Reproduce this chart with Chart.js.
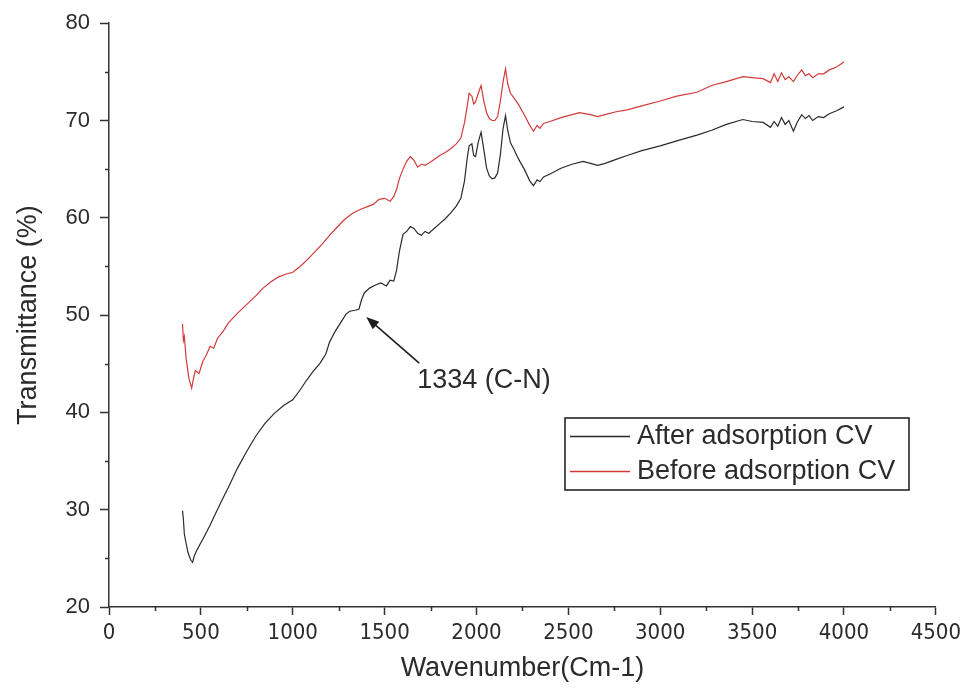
<!DOCTYPE html>
<html>
<head>
<meta charset="utf-8">
<script src="https://cdn.jsdelivr.net/npm/chart.js@4/dist/chart.umd.min.js"></script>
<style>
  html, body { margin: 0; padding: 0; background: #ffffff; }
  #wrap { width: 966px; height: 691px; }
</style>
</head>
<body>
<div id="wrap"><canvas id="c" width="966" height="691"></canvas></div>
<script>
// ---------- DATA ----------
const seriesNames = ['After adsorption CV', 'Before adsorption CV'];

const afterWavenumber = [400,405,410,420,430,445,455,465,480,500,520,550,580,610,650,700,750,800,850,900,950,1000,1040,1075,1110,1150,1180,1200,1230,1260,1290,1310,1340,1360,1375,1390,1420,1450,1480,1510,1530,1550,1565,1580,1600,1620,1640,1660,1680,1700,1720,1740,1770,1800,1830,1860,1890,1915,1935,1950,1960,1975,1985,1995,2010,2025,2040,2055,2070,2085,2100,2115,2130,2145,2158,2170,2185,2205,2230,2260,2290,2310,2330,2345,2365,2400,2460,2520,2580,2620,2660,2700,2760,2820,2900,3000,3090,3200,3280,3360,3450,3500,3560,3600,3620,3640,3660,3680,3700,3725,3745,3770,3790,3810,3830,3860,3890,3920,3960,4000];
const afterT = [29.9,29.0,27.5,26.5,25.6,24.8,24.6,25.3,25.9,26.6,27.3,28.4,29.6,30.8,32.3,34.3,36.0,37.6,38.9,39.9,40.7,41.3,42.3,43.3,44.2,45.1,46.0,47.2,48.3,49.2,50.1,50.4,50.5,50.6,51.6,52.3,52.8,53.1,53.3,53.0,53.6,53.5,54.6,56.5,58.3,58.6,59.1,58.9,58.4,58.2,58.6,58.4,58.9,59.4,59.9,60.5,61.2,62.0,63.8,66.2,67.4,67.6,66.4,66.3,67.8,68.8,67.0,65.1,64.3,64.0,64.1,64.6,66.5,69.2,70.5,69.0,67.7,67.0,66.0,65.0,63.8,63.3,63.9,63.7,64.2,64.5,65.1,65.5,65.8,65.6,65.4,65.6,66.0,66.4,66.9,67.4,67.9,68.5,69.0,69.6,70.1,69.9,69.8,69.3,69.9,69.4,70.3,69.6,70.0,68.9,69.8,70.6,70.2,70.5,70.0,70.4,70.3,70.7,71.0,71.4];

const beforeWavenumber = [400,405,410,420,435,450,460,470,490,510,530,550,570,590,620,650,700,750,800,840,880,920,960,1000,1040,1080,1120,1160,1200,1240,1280,1320,1360,1400,1440,1470,1500,1530,1550,1565,1580,1600,1620,1640,1660,1680,1700,1720,1740,1770,1800,1830,1860,1890,1915,1935,1950,1960,1975,1985,1995,2010,2025,2040,2055,2070,2085,2100,2115,2130,2145,2158,2170,2185,2205,2230,2260,2290,2310,2330,2345,2365,2400,2460,2520,2560,2620,2660,2700,2760,2820,2900,3000,3090,3200,3280,3360,3450,3500,3560,3600,3620,3640,3660,3680,3700,3725,3745,3770,3790,3810,3830,3860,3890,3920,3960,4000];
const beforeT = [49.1,47.4,47.8,45.5,43.5,42.5,43.5,44.3,44.0,45.2,45.9,46.8,46.6,47.6,48.3,49.2,50.2,51.1,52.0,52.8,53.4,53.9,54.2,54.4,55.0,55.7,56.5,57.3,58.2,59.0,59.8,60.4,60.8,61.1,61.4,61.9,62.0,61.7,62.2,62.9,64.0,65.0,65.8,66.3,65.9,65.2,65.5,65.4,65.6,66.0,66.4,66.7,67.1,67.6,68.2,69.8,71.5,72.8,72.5,71.7,71.9,72.8,73.6,72.0,70.8,70.2,70.0,70.0,70.4,72.0,74.0,75.3,73.8,72.8,72.3,71.6,70.6,69.5,68.9,69.5,69.2,69.7,69.9,70.3,70.6,70.8,70.6,70.4,70.6,70.9,71.1,71.5,72.0,72.5,72.9,73.6,74.0,74.5,74.4,74.3,73.9,74.8,74.0,74.9,74.2,74.5,74.0,74.6,75.2,74.6,74.8,74.4,74.8,74.8,75.2,75.5,76.0];

const xTicks = [0,500,1000,1500,2000,2500,3000,3500,4000,4500];
const yTicks = [20,30,40,50,60,70,80];
const xMinorTicks = [250,750,1250,1750,2250,2750,3250,3750,4250];
const yMinorTicks = [25,35,45,55,65,75];

const annotationText = '1334 (C-N)';
const annotationTip = [1400, 49.8];      // where the arrow points (data coords)

// ---------- build chart ----------
const toPts = (xs, ys) => xs.map((x, i) => ({ x: x, y: ys[i] }));
const AXIS = '#333333';
const TXT = '#2b2b2b';
const SANS = '"Liberation Sans", Arial, sans-serif';

const minorTicksPlugin = {
  id: 'minorTicks',
  afterDraw(chart) {
    const { ctx } = chart;
    const xs = chart.scales.x, ys = chart.scales.y;
    ctx.save();
    ctx.strokeStyle = AXIS;
    ctx.lineWidth = 1.5;
    ctx.beginPath();
    xMinorTicks.forEach(v => {
      const p = Math.round(xs.getPixelForValue(v)) + 0.5;
      ctx.moveTo(p, xs.top);
      ctx.lineTo(p, xs.top + 4);
    });
    yMinorTicks.forEach(v => {
      const p = Math.round(ys.getPixelForValue(v)) + 0.5;
      ctx.moveTo(ys.right, p);
      ctx.lineTo(ys.right - 4, p);
    });
    ctx.stroke();
    ctx.restore();
  }
};

const legendBoxPlugin = {
  id: 'legendBox',
  afterDraw(chart) {
    const { ctx } = chart;
    const box = { left: 565, top: 418, right: 909, bottom: 490 };
    const rows = [436, 471];
    ctx.save();
    ctx.strokeStyle = '#262626';
    ctx.lineWidth = 1.6;
    ctx.strokeRect(box.left, box.top, box.right - box.left, box.bottom - box.top);
    ctx.font = '27px ' + SANS;
    ctx.textBaseline = 'middle';
    ctx.textAlign = 'left';
    chart.data.datasets.forEach((ds, i) => {
      const y = rows[i];
      ctx.strokeStyle = ds.borderColor;
      ctx.lineWidth = 1.4;
      ctx.beginPath();
      ctx.moveTo(570, y + 0.5);
      ctx.lineTo(630, y + 0.5);
      ctx.stroke();
      ctx.fillStyle = TXT;
      ctx.fillText(ds.label, 637, y + 1);
    });
    ctx.restore();
  }
};

const annotationPlugin = {
  id: 'arrowNote',
  afterDraw(chart) {
    const { ctx } = chart;
    const xs = chart.scales.x, ys = chart.scales.y;
    const tipX = xs.getPixelForValue(annotationTip[0]);
    const tipY = ys.getPixelForValue(annotationTip[1]);
    const tailX = tipX + 53, tailY = tipY + 46;
    const ang = Math.atan2(tipY - tailY, tipX - tailX);
    const headLen = 13, headW = 5;
    ctx.save();
    ctx.strokeStyle = '#1e1e1e';
    ctx.fillStyle = '#1e1e1e';
    ctx.lineWidth = 1.6;
    ctx.beginPath();
    ctx.moveTo(tailX, tailY);
    ctx.lineTo(tipX + Math.cos(ang) * -headLen * 0.8, tipY + Math.sin(ang) * -headLen * 0.8);
    ctx.stroke();
    ctx.beginPath();
    ctx.moveTo(tipX, tipY);
    const bx = tipX - Math.cos(ang) * headLen, by = tipY - Math.sin(ang) * headLen;
    ctx.lineTo(bx + Math.sin(ang) * headW, by - Math.cos(ang) * headW);
    ctx.lineTo(bx - Math.sin(ang) * headW, by + Math.cos(ang) * headW);
    ctx.closePath();
    ctx.fill();
    ctx.font = '27px ' + SANS;
    ctx.fillStyle = TXT;
    ctx.textBaseline = 'middle';
    ctx.textAlign = 'left';
    ctx.fillText(annotationText, tailX - 2, tailY + 18);
    ctx.restore();
  }
};

new Chart(document.getElementById('c'), {
  type: 'scatter',
  data: {
    datasets: [
      {
        label: seriesNames[0],
        data: toPts(afterWavenumber, afterT),
        showLine: true,
        borderColor: '#2a2a2a',
        borderWidth: 1.2,
        pointRadius: 0,
        tension: 0,
        order: 1
      },
      {
        label: seriesNames[1],
        data: toPts(beforeWavenumber, beforeT),
        showLine: true,
        borderColor: '#d23a3a',
        borderWidth: 1.2,
        pointRadius: 0,
        tension: 0,
        order: 2
      }
    ]
  },
  options: {
    responsive: false,
    animation: false,
    devicePixelRatio: 1,
    layout: { padding: { top: 21, right: 29, left: 0, bottom: 0 } },
    plugins: {
      legend: { display: false },
      tooltip: { enabled: false },
      title: { display: false }
    },
    scales: {
      x: {
        type: 'linear',
        min: 0, max: 4500,
        afterBuildTicks: s => { s.ticks = xTicks.map(v => ({ value: v })); },
        afterFit: s => { s.height = 84; },
        grid: { display: true, drawOnChartArea: false, drawTicks: true, tickLength: 8, tickColor: AXIS, tickWidth: 1.5 },
        border: { display: true, color: AXIS, width: 1.5 },
        ticks: {
          color: TXT,
          padding: 5,
          maxRotation: 0,
          autoSkip: false,
          callback: v => String(v),
          font: { family: '"DejaVu Sans Condensed", "Liberation Sans Narrow", sans-serif', size: 22 }
        },
        title: {
          display: true,
          text: 'Wavenumber(Cm-1)',
          color: TXT,
          font: { family: SANS, size: 27 },
          padding: { top: 0, bottom: 6 }
        }
      },
      y: {
        type: 'linear',
        min: 20, max: 80,
        afterBuildTicks: s => { s.ticks = yTicks.map(v => ({ value: v })); },
        afterFit: s => { s.width = 109; },
        grid: { display: true, drawOnChartArea: false, drawTicks: true, tickLength: 9, tickColor: AXIS, tickWidth: 1.5 },
        border: { display: true, color: AXIS, width: 1.5 },
        ticks: {
          color: TXT,
          padding: 10,
          callback: v => String(v),
          font: { family: SANS, size: 22 }
        },
        title: {
          display: true,
          text: 'Transmittance (%)',
          color: TXT,
          font: { family: SANS, size: 27 },
          padding: { top: 12, bottom: 0 }
        }
      }
    }
  },
  plugins: [minorTicksPlugin, legendBoxPlugin, annotationPlugin]
});
</script>
</body>
</html>
